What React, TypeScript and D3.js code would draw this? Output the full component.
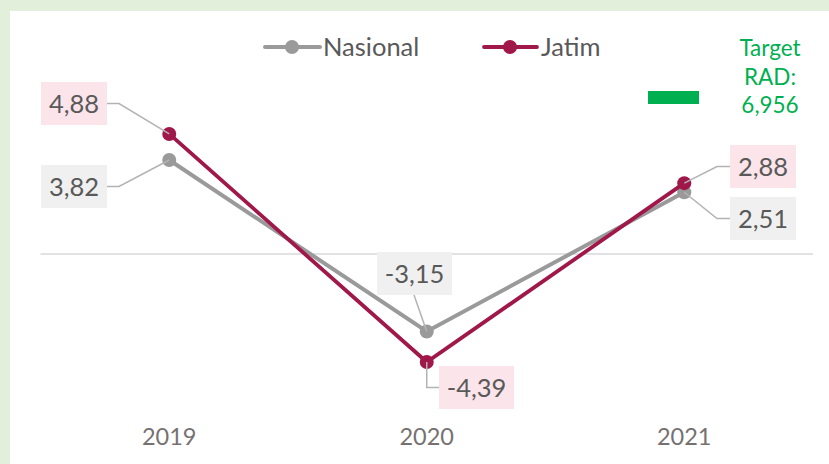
import React from "react";
import * as d3 from "d3";

const categories = ["2019", "2020", "2021"];
const nasional = [3.82, -3.15, 2.51];
const jatim = [4.88, -4.39, 2.88];
const labelNasional = ["3,82", "-3,15", "2,51"];
const labelJatim = ["4,88", "-4,39", "2,88"];
const targetLines = ["Target", "RAD:", "6,956"];

const W = 829;
const H = 464;
const FONT = "Lato, 'Open Sans', sans-serif";
const GRAY = "#9a9a9a";
const RED = "#a0174a";
const TXT = "#595959";

type LabelPos = { bx: number; by: number; w: number; h: number; side: "left" | "right" | "up" | "down" };
const nasPos: LabelPos[] = [
  { bx: 41, by: 165, w: 66, h: 43, side: "left" },
  { bx: 377, by: 252, w: 75, h: 43, side: "up" },
  { bx: 730, by: 197, w: 66, h: 43, side: "right" },
];
const jatPos: LabelPos[] = [
  { bx: 41, by: 82, w: 66, h: 43, side: "left" },
  { bx: 439, by: 366, w: 75, h: 43, side: "down" },
  { bx: 730, by: 145, w: 66, h: 43, side: "right" },
];

export default function App() {
  const x = d3.scaleBand<string>().domain(categories).range([40.5, 813]);
  const y = d3.scaleLinear().domain([-5, 5]).range([377, 131]);
  const cx = (c: string) => (x(c) as number) + x.bandwidth() / 2;

  const line = d3
    .line<number>()
    .x((_, i) => cx(categories[i]))
    .y((d) => y(d));

  const leader = (px: number, py: number, p: LabelPos) => {
    const midY = p.by + p.h / 2;
    if (p.side === "left") return `M${p.bx + p.w},${midY}H${p.bx + p.w + 12}L${px},${py}`;
    if (p.side === "right") return `M${p.bx},${midY}H${p.bx - 13}L${px},${py}`;
    if (p.side === "up") return `M${p.bx + 37},${p.by + p.h}L${px},${py}`;
    return `M${px},${py}V${midY}H${p.bx}`;
  };

  const renderLabels = (vals: number[], texts: string[], pos: LabelPos[], fill: string) =>
    vals.map((v, i) => {
      const px = cx(categories[i]);
      const py = y(v);
      const p = pos[i];
      return (
        <g key={i}>
          <path d={leader(px, py, p)} fill="none" stroke="#b3b3b3" strokeWidth={1.5} />
          <rect x={p.bx} y={p.by} width={p.w} height={p.h} fill={fill} />
          <text
            x={p.bx + p.w / 2}
            y={p.by + p.h / 2}
            dy="0.36em"
            textAnchor="middle"
            fontSize={25.5}
            fill={TXT}
            fontFamily={FONT}
          >
            {texts[i]}
          </text>
        </g>
      );
    });

  return (
    <svg width={W} height={H} style={{ position: "absolute", left: 0, top: 0 }}>
      <rect x={0} y={0} width={W} height={H} fill="#e2efda" />
      <rect x={10} y={11} width={W - 10} height={H - 11} fill="#ffffff" />
      <line x1={40.5} x2={813} y1={y(0)} y2={y(0)} stroke="#d9d9d9" strokeWidth={1.5} />
      {categories.map((c) => (
        <text key={c} x={cx(c)} y={437} dy="0.36em" textAnchor="middle" fontSize={23.5} fill="#767171" fontFamily={FONT}>
          {c}
        </text>
      ))}
      <path d={line(nasional) || ""} fill="none" stroke={GRAY} strokeWidth={4} />
      {nasional.map((v, i) => (
        <circle key={i} cx={cx(categories[i])} cy={y(v)} r={7} fill={GRAY} />
      ))}
      <path d={line(jatim) || ""} fill="none" stroke={RED} strokeWidth={3.8} />
      {jatim.map((v, i) => (
        <circle key={i} cx={cx(categories[i])} cy={y(v)} r={7} fill={RED} />
      ))}
      {renderLabels(nasional, labelNasional, nasPos, "#f0f0f0")}
      {renderLabels(jatim, labelJatim, jatPos, "#fbe4ea")}
      <g fontFamily={FONT} fontSize={25.5} fill={TXT}>
        <line x1={265} x2={320} y1={47} y2={47} stroke={GRAY} strokeWidth={4} strokeLinecap="round" />
        <circle cx={292} cy={47} r={7} fill={GRAY} />
        <text x={323} y={47} dy="0.36em">Nasional</text>
        <line x1={484} x2={537} y1={47} y2={47} stroke={RED} strokeWidth={3.8} strokeLinecap="round" />
        <circle cx={510} cy={47} r={7} fill={RED} />
        <text x={541} y={47} dy="0.36em">Jatim</text>
      </g>
      <rect x={648} y={91} width={51} height={13} fill="#00b050" />
      {targetLines.map((t, i) => (
        <text key={t} x={770} y={48 + i * 28.5} dy="0.36em" textAnchor="middle" fontSize={22.5} fill="#00b050" fontFamily={FONT}>
          {t}
        </text>
      ))}
    </svg>
  );
}
